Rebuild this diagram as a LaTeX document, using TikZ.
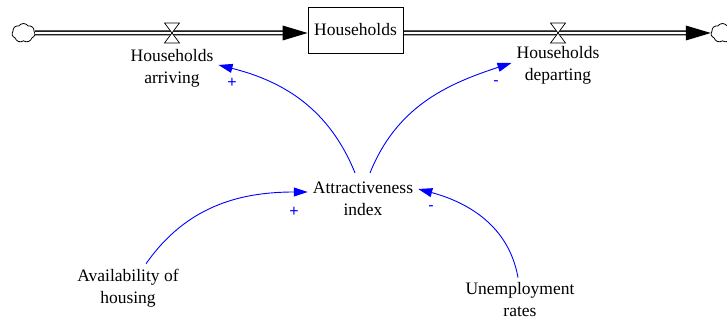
\documentclass[tikz,border=0pt]{standalone}
\usepackage{fontspec}
\setmainfont{Liberation Serif}
\setsansfont{Liberation Sans}
\usetikzlibrary{arrows.meta,shapes.symbols}
\begin{document}
\begin{tikzpicture}[x=1pt,y=1pt,
  lbl/.style={font=\fontsize{17.5}{22}\selectfont, align=center, inner sep=5pt},
  stockbox/.style={draw, line width=0.8pt, minimum width=95pt, minimum height=46pt, inner sep=2pt, font=\fontsize{17.5}{22}\selectfont},
  src/.style={cloud, cloud puffs=7, cloud puff arc=110, draw, fill=white, line width=0.8pt, minimum width=23pt, minimum height=19pt, inner sep=0pt},
  pipeout/.style={line width=5pt, black},
  pipein/.style={line width=2.4pt, white},
  valve/.style={fill=white, draw=black, line width=0.7pt},
  infl/.style={blue, line width=0.9pt, -{Triangle[length=14pt,width=9pt]}},
  pol/.style={blue, inner sep=0pt, font=\sffamily\fontsize{16}{16}\selectfont}
]
\useasboundingbox (0,0) rectangle (727,321);
% stock and sources
\node[stockbox] (stock) at (355.5,291) {Households};
\node[src] (cloudL) at (23.5,288) {};
\node[src] (cloudR) at (722.5,288) {};
\coordinate (v1) at (172,288);
\coordinate (v2) at (558,288);
\coordinate (tipL) at (stock.west |- v1);
\coordinate (tipR) at (cloudR.west);
% pipes
\draw[pipeout] (cloudL.east) -- ([xshift=-22pt]tipL);
\draw[pipein] (cloudL.east) -- ([xshift=-22pt]tipL);
\fill[black] (tipL) -- ++(-25,7.5) -- ++(0,-15) -- cycle;
\draw[pipeout] (stock.east |- v2) -- ([xshift=-22pt]tipR);
\draw[pipein] ([xshift=0.8pt]stock.east |- v2) -- ([xshift=-22pt]tipR);
\fill[black] (tipR) -- ++(-25,7.5) -- ++(0,-15) -- cycle;
% valves
\draw[valve] (v1) ++(-7.5,10) -- ++(15,0) -- ++(-15,-20) -- ++(15,0) -- cycle;
\draw[valve] (v2) ++(-7.5,10) -- ++(15,0) -- ++(-15,-20) -- ++(15,0) -- cycle;
% labels
\node[lbl] (arr) at (172,253) {Households\\arriving};
\node[lbl] (dep) at (558,256) {Households\\departing};
\node[lbl] (attr) at (363,122) {Attractiveness\\index};
\node[lbl] (avail) at (128,33) {Availability of\\housing};
\node[lbl] (unemp) at (520,21) {Unemployment\\rates};
% influences
\draw[infl] ([xshift=-8pt,yshift=4pt]attr.north) to[out=112,in=-14] ([yshift=3pt]arr.east);
\draw[infl] ([xshift=7pt,yshift=4pt]attr.north) to[out=68,in=198] ([yshift=2pt]dep.west);
\draw[infl] ([xshift=18pt]avail.north) to[out=55,in=180] ([yshift=7pt]attr.west);
\draw[infl] ([xshift=-2pt]unemp.north) to[out=100,in=-15] ([yshift=10pt]attr.east);
% polarities
\node[pol] (p1) at (232,238) {+};
\node[pol] (p2) at (496,238) {-};
\node[pol] (p3) at (294,109) {+};
\node[pol] (p4) at (431,113) {-};
\end{tikzpicture}
\end{document}
